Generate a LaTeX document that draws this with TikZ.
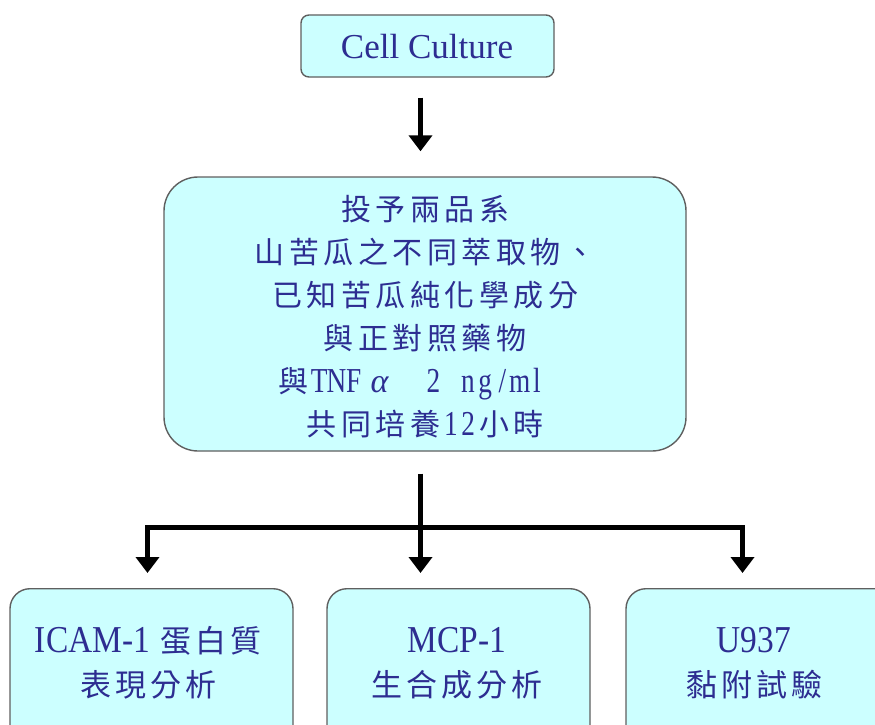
\documentclass[tikz,border=0pt]{standalone}
\usepackage{fontspec}
\usepackage{graphicx}
\setmainfont{Liberation Serif}
\newfontfamily\cjk{Noto Sans CJK TC}
\usetikzlibrary{arrows.meta}
\definecolor{txtblue}{RGB}{45,45,145}
\definecolor{boxfill}{RGB}{204,255,255}
\definecolor{boxline}{RGB}{95,95,95}
\newcommand\fcell[1]{\makebox[34.5pt]{\cjk #1}}
\newcommand\hcell[1]{\makebox[17.25pt]{#1}}
\newcommand\lat[1]{\hcell{\scalebox{0.78}[1]{\fontsize{35}{40}\selectfont #1}}}
\newcommand\bcell[1]{\makebox[35pt]{\cjk #1}}
\newcommand\condlat[1]{\scalebox{0.88}[1]{#1}}
\tikzset{
  box/.style={draw=boxline, line width=1.4pt, fill=boxfill, rectangle},
  lbl/.style={text=txtblue, align=center, inner sep=0pt},
  conn/.style={line width=4.5pt, black},
  arr/.style={conn, -{Triangle[width=23pt,length=16pt]}}
}
\begin{document}
\begin{tikzpicture}[x=1pt,y={(0pt,-1pt)}]
\useasboundingbox (0,0) rectangle (875,725);
\clip (0,0) rectangle (875,725);
% top box
\node[box, rounded corners=8pt, minimum width=253pt, minimum height=62pt] (cc) at (427.5,46) {};
\node[lbl, font=\fontsize{35}{40}\selectfont] (cct) at (427,47) {Cell Culture};
% middle box
\node[box, rounded corners=34pt, minimum width=522pt, minimum height=274pt] (mid) at (425,314) {};
\node[lbl, font=\fontsize{30}{43}\selectfont] (midt) at (425,317) {%
\fcell{投}\fcell{予}\fcell{兩}\fcell{品}\fcell{系}\\
\fcell{山}\fcell{苦}\fcell{瓜}\fcell{之}\fcell{不}\fcell{同}\fcell{萃}\fcell{取}\fcell{物}\fcell{、}\\
\fcell{已}\fcell{知}\fcell{苦}\fcell{瓜}\fcell{純}\fcell{化}\fcell{學}\fcell{成}\fcell{分}\\
\fcell{與}\fcell{正}\fcell{對}\fcell{照}\fcell{藥}\fcell{物}\\
\fcell{與}\lat{T}\lat{N}\lat{F}\makebox[34.5pt]{\fontsize{34}{40}\selectfont\itshape α}\makebox[28pt]{}\lat{2}\hcell{}\lat{n}\lat{g}\lat{/}\lat{m}\lat{l}\makebox[28.5pt]{}\\
\fcell{共}\fcell{同}\fcell{培}\fcell{養}\lat{1}\lat{2}\fcell{小}\fcell{時}};
% bottom boxes
\node[box, rounded corners=20pt, minimum width=283pt, minimum height=200pt, anchor=north] (b1) at (151.5,588) {};
\node[box, rounded corners=20pt, minimum width=263pt, minimum height=200pt, anchor=north] (b2) at (458.5,588) {};
\node[box, rounded corners=20pt, minimum width=283pt, minimum height=200pt, anchor=north] (b3) at (767.5,588) {};
\node[lbl, font=\fontsize{38}{46}\selectfont] (t1) at (149,663) {\condlat{ICAM-1}\hspace{8pt}{\fontsize{31}{40}\selectfont\bcell{蛋}\bcell{白}\bcell{質}}\\[-2pt]{\fontsize{31}{40}\selectfont\bcell{表}\bcell{現}\bcell{分}\bcell{析}}};
\node[lbl, font=\fontsize{38}{46}\selectfont] (t2) at (457,663) {\condlat{MCP-1}\\[-2pt]{\fontsize{31}{40}\selectfont\bcell{生}\bcell{合}\bcell{成}\bcell{分}\bcell{析}}};
\node[lbl, font=\fontsize{38}{46}\selectfont] (t3) at (754,663) {\condlat{U937}\\[-2pt]{\fontsize{31}{40}\selectfont\bcell{黏}\bcell{附}\bcell{試}\bcell{驗}}};
% connectors
\draw[arr] ([xshift=-7pt,yshift=-20pt]cc.south) -- ([xshift=-4.5pt,yshift=25pt]mid.north);
\coordinate (split) at (420.5,527.5);
\coordinate (e1) at (147.5,573);
\coordinate (e2) at (420.5,573);
\coordinate (e3) at (742.5,573);
\draw[conn] ([xshift=-4.5pt,yshift=-22pt]mid.south) -- (split);
\draw[arr] (split) -| (e1);
\draw[arr] (split) -- (e2);
\draw[arr] (split) -| (e3);
\end{tikzpicture}
\end{document}
